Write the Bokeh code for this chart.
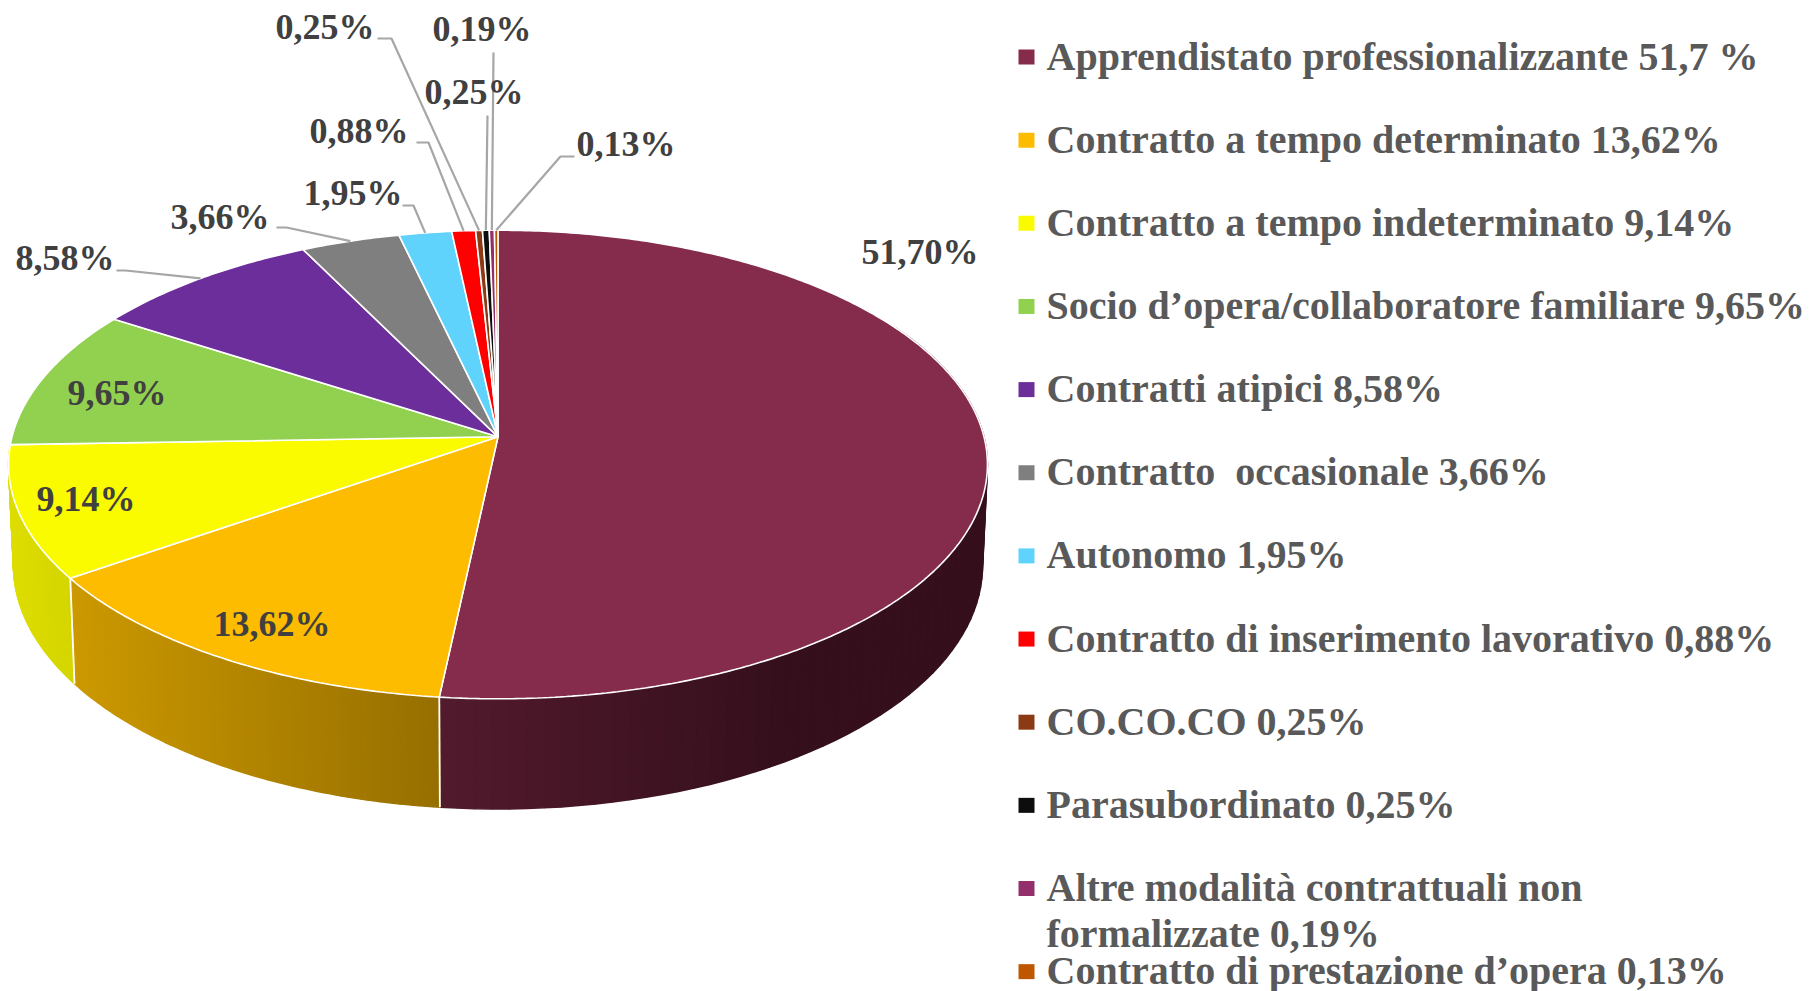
import numpy as np
from bokeh.plotting import figure
from bokeh.models import Range1d, ColumnDataSource
from bokeh.core.properties import value
from bokeh.embed import file_html
from bokeh.resources import INLINE

# ---------- data ----------
values = [51.70, 13.62, 9.14, 9.65, 8.58, 3.66, 1.95, 0.88, 0.25, 0.25, 0.19, 0.13]
value_labels = ["51,70%", "13,62%", "9,14%", "9,65%", "8,58%", "3,66%", "1,95%",
                "0,88%", "0,25%", "0,25%", "0,19%", "0,13%"]
legend_labels = [
    "Apprendistato professionalizzante 51,7 %",
    "Contratto a tempo determinato 13,62%",
    "Contratto a tempo indeterminato 9,14%",
    "Socio d’opera/collaboratore familiare 9,65%",
    "Contratti atipici 8,58%",
    "Contratto\u00a0 occasionale 3,66%",
    "Autonomo 1,95%",
    "Contratto di inserimento lavorativo 0,88%",
    "CO.CO.CO 0,25%",
    "Parasubordinato 0,25%",
    "Altre modalità contrattuali non\nformalizzate 0,19%",
    "Contratto di prestazione d’opera 0,13%",
]
colors = ["#852B4B", "#FDBC00", "#FBFB00", "#92D050", "#6C2E9B", "#7F7F7F",
          "#5FD3FC", "#FF0000", "#8B3A15", "#0D0D0D", "#93306B", "#BF5700"]

# ---------- layout / style (page pixels) ----------
W, H = 1810, 991
CX, CY = 497.5, 436.3          # apex of the top face
A, B, K = 486.0, 231.0, 0.1183 # projected disc
BOT_CY, SX, SY = 536.0, 0.99, 1.04  # lower rim of the wall
WALL_END = np.radians(272)
WALL_START = np.radians(60)
wall_shades = {0: ("#521A2D", "#350F1C"), 1: ("#CC9900", "#966F00"), 2: ("#DDDD00", "#D5D500")}
label_pos = {  # left x, baseline y
    0: (861, 251), 1: (213, 623), 2: (36, 498), 3: (67, 392), 4: (15, 257), 5: (170, 216),
    6: (303, 192), 7: (309, 130), 8: (275, 26), 9: (424, 91), 10: (432, 28), 11: (576, 143),
}
leader_path = {  # label-side points; last point is the slice rim, computed from the data
    4: [(116, 270), (125, 270)], 5: [(276, 227), (286, 227)], 6: [(402, 205), (413, 205)],
    7: [(416, 142), (428, 142)], 8: [(377, 38), (391, 38)], 9: [(487, 115)],
    10: [(493, 52)], 11: [(574, 156), (560, 156)],
}
LABEL_PX, LEGEND_PX = "36px", "40px"
FONT = "Liberation Serif"
LEG_X, LEG_TEXT_X, LEG_Y0, LEG_STEP, LEG_LINE = 1018, 1046, 55.5, 83.15, 46
MARK_Y0 = 49.0


def top(t):
    d = 1 + K * np.cos(t)
    return CX + A * np.sin(t) / d, CY - B * np.cos(t) / d


def bottom(t):
    d = 1 + K * np.cos(t)
    return CX + SX * A * np.sin(t) / d, BOT_CY - SY * B * np.cos(t) / d


def hex2rgb(h):
    return np.array([int(h[i:i + 2], 16) for i in (1, 3, 5)], float)


def mix(c0, c1, f):
    c = hex2rgb(c0) * (1 - f) + hex2rgb(c1) * f
    return "#%02x%02x%02x" % tuple(int(round(v)) for v in c)


fractions = np.array(values) / sum(values)
cum = np.concatenate([[0], np.cumsum(fractions)]) * 2 * np.pi

p = figure(width=W, height=H, x_range=Range1d(0, W), y_range=Range1d(H, 0),
           output_backend="svg", toolbar_location=None, min_border=0)
p.axis.visible = False
p.grid.visible = False
p.outline_line_color = None
p.background_fill_color = "white"

# walls: strips shaded horizontally
xs, ys, cs = [], [], []
for i, (c_left, c_right) in wall_shades.items():
    t0, t1 = max(cum[i], WALL_START), min(cum[i + 1], WALL_END)
    ts = np.linspace(t0, t1, 70)
    tx = top(ts)[0]
    lo, hi = tx.min(), tx.max()
    for a, b in zip(ts[:-1], ts[1:]):
        xa, ya = top(a); xb, yb = top(b)
        xc, yc = bottom(b); xd, yd = bottom(a)
        xs.append([xa, xb, xc, xd]); ys.append([ya, yb, yc, yd])
        f = ((xa + xb) / 2 - lo) / (hi - lo)
        cs.append(mix(c_left, c_right, min(1, f * (1.6 if i == 0 else 1))))
p.patches(xs, ys, fill_color=cs, line_color=cs, line_width=1.5)

# wall seams
for i in (0, 1):
    xa, ya = top(cum[i + 1]); xb, yb = bottom(cum[i + 1])
    p.line([xa, xb], [ya, yb], line_color="white", line_width=1.8)

# top face
xs, ys = [], []
for i in range(len(values)):
    ts = np.linspace(cum[i], cum[i + 1], max(3, int(values[i] * 6)))
    x, y = top(ts)
    xs.append([CX] + list(x)); ys.append([CY] + list(y))
p.patches(xs, ys, fill_color=colors, line_color="white", line_width=1.6)

# leaders
for i, pts in leader_path.items():
    xr, yr = top((cum[i] + cum[i + 1]) / 2)
    p.line([q[0] for q in pts] + [xr], [q[1] for q in pts] + [yr],
           line_color="#A6A6A6", line_width=2.2)

# data labels
src = ColumnDataSource(dict(x=[label_pos[i][0] for i in range(len(values))],
                            y=[label_pos[i][1] for i in range(len(values))],
                            t=value_labels))
p.text("x", "y", text="t", source=src, text_font=value(FONT), text_font_style="bold",
       text_font_size=LABEL_PX, text_color="#404040", text_baseline="alphabetic", text_align="left")

# legend
lx, ly, lt = [], [], []
for i, lab in enumerate(legend_labels):
    y0 = LEG_Y0 + i * LEG_STEP
    for j, line in enumerate(lab.split("\n")):
        lx.append(LEG_TEXT_X); ly.append(y0 + j * LEG_LINE); lt.append(line)
p.text(lx, ly, text=lt, text_font=value(FONT), text_font_style="bold",
       text_font_size=LEGEND_PX, text_color="#595959", text_baseline="alphabetic", text_align="left")
p.quad(left=[LEG_X] * 12, right=[LEG_X + 16] * 12,
       top=[MARK_Y0 + i * LEG_STEP for i in range(12)],
       bottom=[MARK_Y0 + 15 + i * LEG_STEP for i in range(12)],
       fill_color=colors, line_color=None)

open("out.html", "w").write(file_html(p, INLINE))
